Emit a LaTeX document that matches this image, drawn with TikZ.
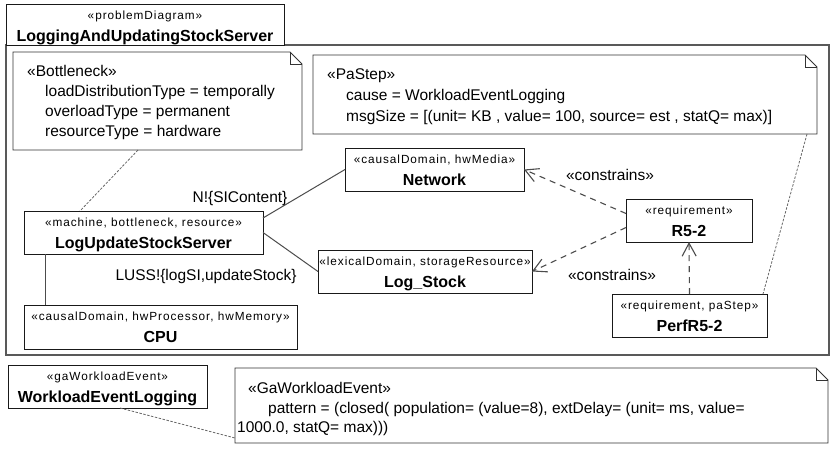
\documentclass[tikz,border=0pt]{standalone}
\usepackage{fontspec}
\setmainfont{Liberation Sans}
\newfontfamily\stereofamily[LetterSpace=8]{Liberation Sans}
\usetikzlibrary{arrows.meta,calc}
\newcommand\bodyfs{\fontsize{15.5}{18}\selectfont}
\newcommand\stfs{\stereofamily\fontsize{11.8}{13}\selectfont}
\newcommand\ttlfs{\bfseries\fontsize{16}{19}\selectfont}
\tikzset{
 umlbox/.style={draw=black!90, line width=0.9pt, fill=white, inner sep=0, outer sep=0, anchor=north west},
 notebg/.style={inner sep=0, outer sep=0, anchor=north west},
 noteline/.style={draw=black!80, line width=0.9pt, line join=miter},
 sttext/.style={anchor=base, inner sep=0, font=\stfs},
 nmtext/.style={anchor=base, inner sep=0, font=\ttlfs},
 bodytext/.style={anchor=base west, inner sep=0, font=\bodyfs},
 lbltext/.style={anchor=base, inner sep=0, font=\bodyfs},
 assoc/.style={draw=black!70, line width=1pt},
 anchorline/.style={draw=black!60, line width=0.8pt, dash pattern=on 2.5pt off 1.5pt},
 dep/.style={draw=black!70, line width=1.1pt, dash pattern=on 6pt off 5pt, -{Straight Barb[length=13pt,width=14pt,line width=1.1pt]}},
 framebox/.style={draw=black!65, line width=1.6pt},
}
\newcommand\umlclass[7]{%
 \node[umlbox, minimum width={#4-#2}, minimum height={#5-#3}] (#1) at (#2,#3) {};
 \node[sttext] (#1-st) at ([yshift=-15pt]#1.north) {#6};
 \node[nmtext] (#1-nm) at ([yshift=-37pt]#1.north) {#7};
}
\newcommand\umlnote[5]{%
 \node[notebg, minimum width={#4-#2}, minimum height={#5-#3}] (#1) at (#2,#3) {};
 \draw[noteline] (#1.north west) -- ([xshift=-12pt]#1.north east) -- ([yshift=-12pt]#1.north east) -- (#1.south east) -- (#1.south west) -- cycle;
 \draw[noteline, line width=0.7pt] ([xshift=-12pt]#1.north east) |- ([yshift=-12pt]#1.north east);
}
\begin{document}
\begin{tikzpicture}[x=1pt,y=-1pt]
\useasboundingbox (0,0) rectangle (838,450);
% frame
\draw[framebox] (6,45) rectangle (829,355);
\umlclass{title}{6}{4}{284}{45}{«problemDiagram»}{LoggingAndUpdatingStockServer}
% notes
\umlnote{bn}{13}{52}{302}{150}
\node[bodytext] (bn-l1) at ([xshift=14pt,yshift=-24.5pt]bn.north west) {«Bottleneck»};
\node[bodytext] (bn-l2) at ([xshift=32pt,yshift=-44.5pt]bn.north west) {loadDistributionType = temporally};
\node[bodytext] (bn-l3) at ([xshift=32pt,yshift=-64.5pt]bn.north west) {overloadType = permanent};
\node[bodytext] (bn-l4) at ([xshift=32pt,yshift=-84.5pt]bn.north west) {resourceType = hardware};
\umlnote{pa}{313}{55}{817}{134}
\node[bodytext] (pa-l1) at ([xshift=14pt,yshift=-24.5pt]pa.north west) {«PaStep»};
\node[bodytext] (pa-l2) at ([xshift=33pt,yshift=-45.5pt]pa.north west) {cause = WorkloadEventLogging};
\node[bodytext] (pa-l3) at ([xshift=33pt,yshift=-66.5pt]pa.north west) {msgSize = [(unit= KB , value= 100, source= est , statQ= max)]};
% classes
\umlclass{net}{345}{148}{524}{191}{«causalDomain, hwMedia»}{Network}
\umlclass{luss}{24}{211}{263}{254}{«machine, bottleneck, resource»}{LogUpdateStockServer}
\umlclass{logst}{318}{250}{532}{293}{«lexicalDomain, storageResource»}{Log\_Stock}
\umlclass{r52}{626}{199}{752}{242}{«requirement»}{R5-2}
\umlclass{perf}{612}{294}{767}{337}{«requirement, paStep»}{PerfR5-2}
\umlclass{cpu}{24}{305}{297}{349}{«causalDomain, hwProcessor, hwMemory»}{CPU}
% bottom
\umlclass{wl}{8}{365}{207}{408}{«gaWorkloadEvent»}{WorkloadEventLogging}
\umlnote{ga}{235}{368}{828}{443}
\node[bodytext] (ga-l1) at ([xshift=13pt,yshift=-25.5pt]ga.north west) {«GaWorkloadEvent»};
\node[bodytext] (ga-l2) at ([xshift=33pt,yshift=-45.5pt]ga.north west) {pattern = (closed( population= (value=8), extDelay= (unit= ms, value=};
\node[bodytext] (ga-l3) at ([xshift=2pt,yshift=-64.5pt]ga.north west) {1000.0, statQ= max)))};
% connectors
\draw[assoc] ([yshift=14.5pt]luss.east) -- (net.west);
\draw[assoc] (luss.east) -- (logst.west);
\draw[assoc] ([xshift=21pt]luss.south west) -- ([xshift=21pt]cpu.north west);
\node[lbltext] (lbl-n) at (240,202.5) {N!\{SIContent\}};
\node[lbltext] (lbl-l) at (206,280.5) {LUSS!\{logSI,updateStock\}};
\draw[dep] ([yshift=7pt]r52.west) -- (net.east);
\draw[dep] ([yshift=-7pt]r52.west) -- (logst.east);
\draw[dep] (perf.north) -- (r52.south);
\node[lbltext] (lbl-c1) at (610,180.5) {«constrains»};
\node[lbltext] (lbl-c2) at (612,280.5) {«constrains»};
\draw[anchorline] ([xshift=125pt]bn.south west) -- ([xshift=56pt]luss.north west);
\draw[anchorline] ([xshift=-10pt]pa.south east) -- ([xshift=-4pt]perf.north east);
\draw[anchorline] ([xshift=112pt]wl.south west) -- ([yshift=5pt]ga.south west);
\end{tikzpicture}
\end{document}
